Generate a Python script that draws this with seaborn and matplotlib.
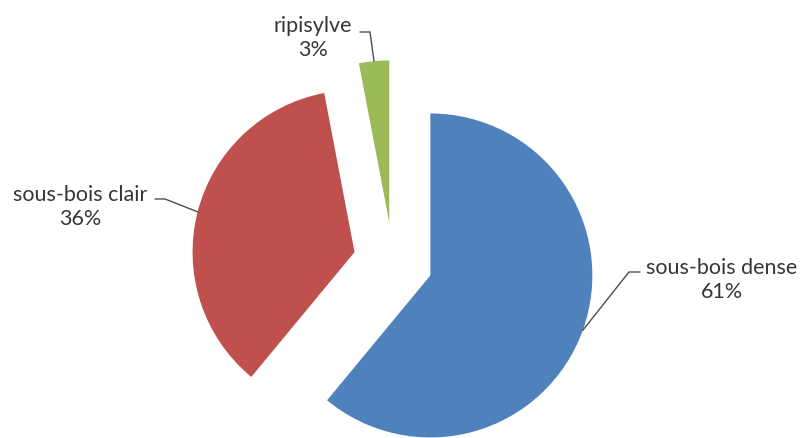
import numpy as np
import matplotlib
matplotlib.use("Agg")
import matplotlib.pyplot as plt
import seaborn as sns

# Forest cover shares
categories = ["sous-bois dense", "sous-bois clair", "ripisylve"]
shares = [61, 36, 3]
percent_labels = ["61%", "36%", "3%"]

sns.set_theme(style="white")
plt.rcParams["font.family"] = ["Lato", "DejaVu Sans"]

colors = ["#4F81BD", "#C0504D", "#9BBB59"]

W, H = 803, 438
fig = plt.figure(figsize=(W / 100, H / 100), dpi=100)
ax = fig.add_axes([0, 0, 1, 1])

# pixel layout: pie centre and radius
CX, CY, R = 393, 262, 162


def px(x, y):
    return (x - CX) / R, (CY - y) / R


wedges, _ = ax.pie(shares, colors=colors, startangle=90, counterclock=False,
                   explode=[0.245] * len(shares), radius=1,
                   wedgeprops=dict(linewidth=0))

ax.set_xlim(-CX / R, (W - CX) / R)
ax.set_ylim(-(H - CY) / R, CY / R)
ax.set_aspect("auto")
ax.axis("off")

# label placement: (text centre, elbow, line end next to text)
label_layout = [
    ((722, 280), (629, 272), (640, 272)),
    ((80, 207), (165, 199), (155, 199)),
    ((313, 38), (370, 32), (360, 32)),
]

text_color = "#363636"
for w, name, pct, (tc, elbow, lend) in zip(wedges, categories, percent_labels, label_layout):
    mid = np.deg2rad((w.theta1 + w.theta2) / 2)
    ax_x = w.center[0] + w.r * np.cos(mid)
    ax_y = w.center[1] + w.r * np.sin(mid)
    ex, ey = px(*elbow)
    lx, ly = px(*lend)
    ax.plot([ax_x, ex, lx], [ax_y, ey, ly], color="#4d4d4d", lw=1.0,
            solid_joinstyle="miter")
    tx, ty = px(*tc)
    ax.text(tx, ty, f"{name}\n{pct}", ha="center", va="center",
            multialignment="center", fontsize=15.5, color=text_color,
            linespacing=1.3)

fig.savefig("out.png", dpi=100, facecolor="white")
